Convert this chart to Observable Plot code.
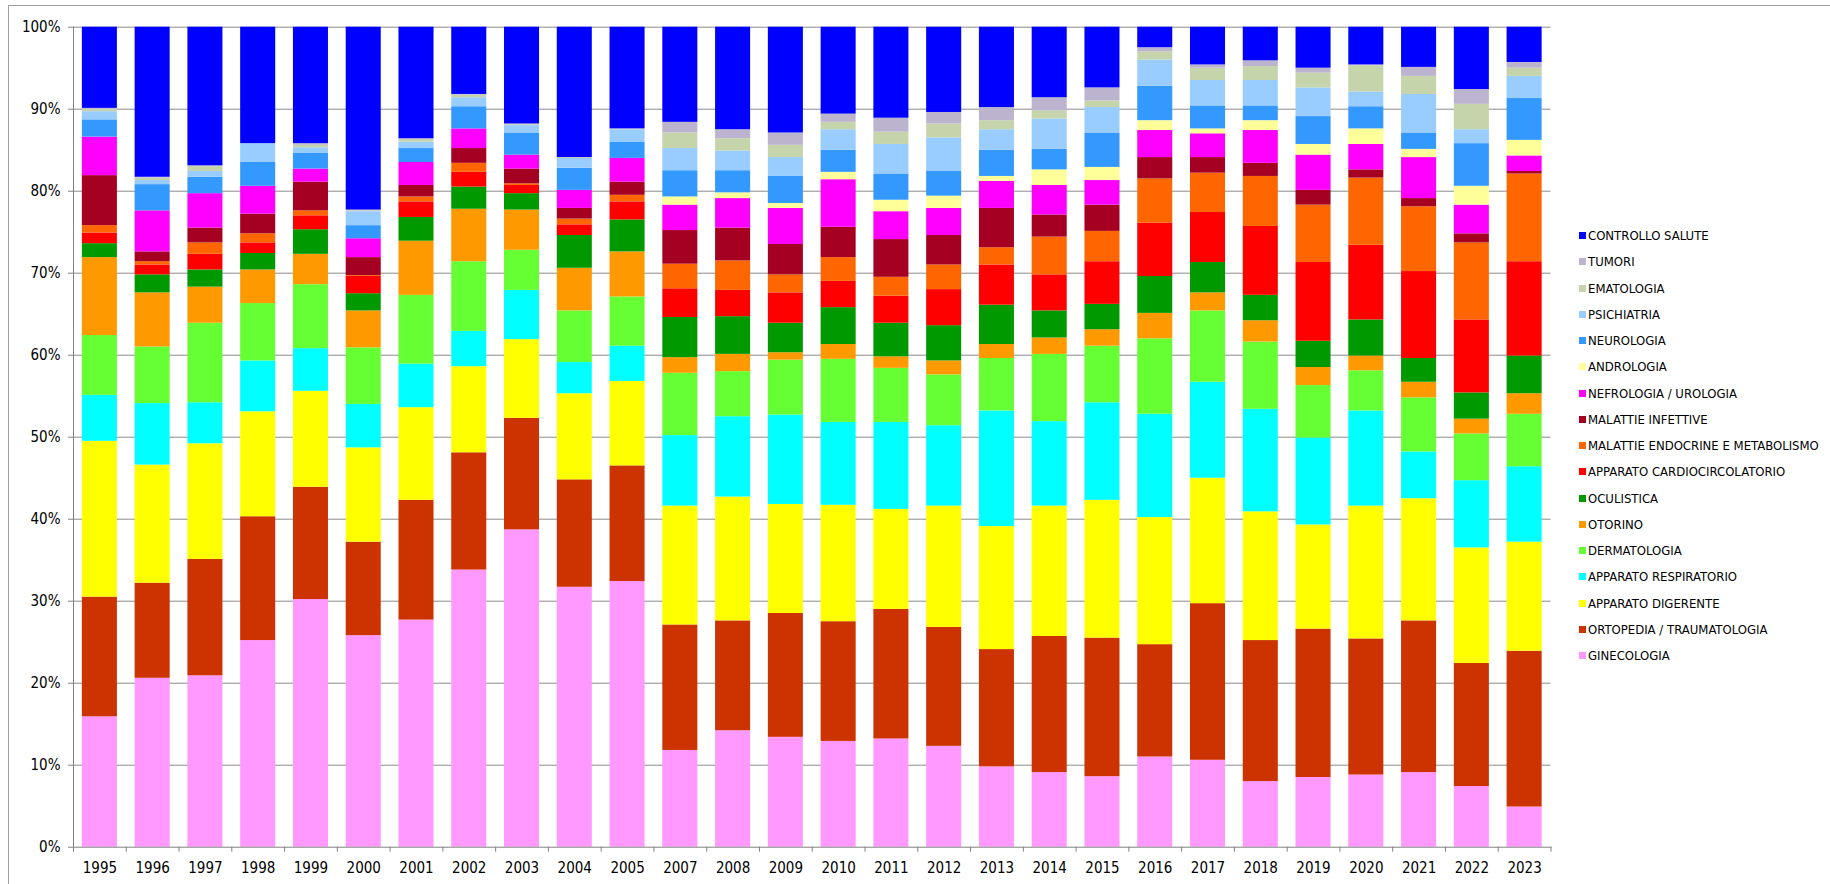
<!DOCTYPE html>
<html>
<head>
<meta charset="utf-8">
<script src="https://cdn.jsdelivr.net/npm/d3@7"></script>
<script src="https://cdn.jsdelivr.net/npm/@observablehq/plot@0.6"></script>
<style>
  html, body { margin: 0; padding: 0; background: #fff; overflow: hidden; }
  #wrap { position: relative; width: 1830px; height: 884px; font-family: 'DejaVu Sans Condensed', 'Noto Sans', sans-serif; }
  #border { position: absolute; left: 8px; top: 5px; right: -2px; bottom: -2px; border-left: 1px solid #a0a0a0; border-top: 1px solid #a0a0a0; }
  #chart { position: absolute; left: 0; top: 0; }
  .lg { position: absolute; left: 1579px; height: 14px; line-height: 14px; font-size: 13px; color: #000; white-space: nowrap; }
  .lg span.sw { display: inline-block; width: 7px; height: 7px; margin-right: 2px; vertical-align: 1px; }
</style>
</head>
<body>
<div id="wrap">
  <div id="border"></div>
  <div id="chart"></div>
</div>
<script>
// Years on the x axis (2006 is absent in the source)
const years = ["1995","1996","1997","1998","1999","2000","2001","2002","2003","2004","2005","2007","2008","2009","2010","2011","2012","2013","2014","2015","2016","2017","2018","2019","2020","2021","2022","2023"];

// Series shares (%), stacked bottom to top
const ginecologia     = [15.9,20.6,20.9,25.2,30.2,25.8,27.7,33.8,38.7,31.7,32.4,11.8,14.2,13.4,12.9,13.2,12.3,9.8,9.1,8.6,11.0,10.6,8.0,8.5,8.8,9.1,7.4,4.9];
const ortopedia       = [14.6,11.6,14.2,15.1,13.7,11.4,14.6,14.3,13.6,13.1,14.1,15.3,13.4,15.1,14.6,15.8,14.5,14.3,16.6,16.9,13.7,19.1,17.2,18.1,16.6,18.5,15.0,19.0];
const digerente       = [19.0,14.4,14.1,12.8,11.7,11.5,11.3,10.5,9.6,10.5,10.3,14.5,15.1,13.3,14.2,12.2,14.8,15.0,15.9,16.8,15.5,15.3,15.7,12.7,16.2,14.9,14.1,13.3];
const respiratorio    = [5.6,7.5,5.0,6.2,5.2,5.3,5.3,4.3,6.0,3.8,4.3,8.6,9.8,10.9,10.1,10.6,9.8,14.1,10.3,11.9,12.6,11.7,12.5,10.6,11.6,5.7,8.2,9.2];
const dermatologia    = [7.3,6.9,9.7,7.0,7.8,6.9,8.4,8.5,4.9,6.3,6.0,7.6,5.5,6.7,7.7,6.6,6.2,6.4,8.2,6.9,9.2,8.7,8.2,6.4,4.9,6.6,5.7,6.4];
const otorino         = [9.5,6.6,4.4,4.1,3.7,4.5,6.6,6.4,4.9,5.2,5.5,1.9,2.1,0.9,1.8,1.4,1.7,1.7,2.0,2.0,3.1,2.2,2.6,2.2,1.8,1.9,1.8,2.5];
const oculistica      = [1.7,2.2,2.1,2.0,3.0,2.1,2.9,2.7,2.0,4.0,3.9,4.9,4.6,3.6,4.5,4.1,4.3,4.8,3.3,3.1,4.5,3.7,3.1,3.2,4.4,2.9,3.2,4.6];
const cardio          = [1.3,1.2,1.9,1.3,1.7,2.1,1.9,1.8,1.0,1.3,2.2,3.5,3.2,3.7,3.2,3.3,4.4,4.9,4.4,5.2,6.5,6.1,8.4,9.6,9.1,10.6,8.9,11.5];
const endocrine       = [0.9,0.4,1.4,1.1,0.6,0.1,0.6,1.1,0.2,0.7,0.8,3.0,3.6,2.2,2.9,2.3,3.0,2.1,4.6,3.7,5.4,4.8,6.1,7.0,8.2,7.9,9.4,10.7];
const infettive       = [6.1,1.2,1.8,2.4,3.5,2.2,1.4,1.8,1.8,1.3,1.6,4.1,4.0,3.7,3.7,4.6,3.6,4.8,2.7,3.2,2.6,1.9,1.6,1.8,1.0,1.0,1.1,0.3];
const nefrologia      = [4.7,5.0,4.2,3.4,1.6,2.3,2.8,2.4,1.7,2.2,2.9,3.1,3.6,4.4,5.8,3.4,3.3,3.3,3.6,3.0,3.3,2.9,4.0,4.3,3.1,5.0,3.5,1.9];
const andrologia      = [0,0,0,0,0,0,0,0,0,0,0,1.0,0.7,0.6,0.9,1.4,1.5,0.6,1.9,1.6,1.2,0.6,1.2,1.3,1.9,1.0,2.3,1.9];
const neurologia      = [2.1,3.2,2.0,2.9,1.9,1.6,1.7,2.7,2.7,2.7,2.0,3.2,2.7,3.3,2.7,3.2,3.0,3.2,2.5,4.2,4.2,2.8,1.8,3.4,2.7,2.0,5.2,5.1];
const psichiatria     = [1.0,0.5,0.7,2.3,0.7,1.7,0.8,1.1,0.9,1.2,1.5,2.7,2.4,2.3,2.5,3.6,4.1,2.5,3.7,3.1,3.2,3.1,3.1,3.5,1.8,4.7,1.7,2.7];
const ematologia      = [0.3,0.3,0.6,0,0.3,0.1,0.3,0.3,0.1,0.1,0.1,1.9,1.5,1.5,0.9,1.5,1.7,1.1,1.0,0.8,1.0,1.5,1.7,1.8,3.2,2.2,3.1,1.0];
const tumori          = [0.1,0.1,0.1,0,0.2,0.1,0.1,0.1,0.1,0,0,1.3,1.1,1.5,1.0,1.7,1.4,1.6,1.6,1.6,0.5,0.4,0.7,0.6,0.1,1.1,1.8,0.7];
const controllo       = [9.9,18.3,16.9,14.2,14.2,22.3,13.6,8.2,11.8,15.9,12.4,11.6,12.5,12.9,10.6,11.1,10.4,9.8,8.6,7.4,2.5,4.6,4.1,5.0,4.6,4.9,7.6,4.3];

// Category names, bottom to top
const categories = ["GINECOLOGIA","ORTOPEDIA / TRAUMATOLOGIA","APPARATO DIGERENTE","APPARATO RESPIRATORIO","DERMATOLOGIA","OTORINO","OCULISTICA","APPARATO CARDIOCIRCOLATORIO","MALATTIE ENDOCRINE E METABOLISMO","MALATTIE INFETTIVE","NEFROLOGIA / UROLOGIA","ANDROLOGIA","NEUROLOGIA","PSICHIATRIA","EMATOLOGIA","TUMORI","CONTROLLO SALUTE"];
const colors = ["#FF99FF","#CC3300","#FFFF00","#00FFFF","#66FF33","#FF9900","#009900","#FF0000","#FF6600","#A50021","#FF00FF","#FFFF99","#3399FF","#99CCFF","#C6D4AC","#BCB3CF","#0000FF"];
const tickValues = [0,0.1,0.2,0.3,0.4,0.5,0.6,0.7,0.8,0.9,1];

const seriesList = [ginecologia, ortopedia, digerente, respiratorio, dermatologia, otorino, oculistica, cardio, endocrine, infettive, nefrologia, andrologia, neurologia, psichiatria, ematologia, tumori, controllo];
const rows = [];
years.forEach((yr, i) => {
  categories.forEach((c, j) => rows.push({year: yr, cat: c, value: seriesList[j][i]}));
});

const W = 1830, H = 884;
const mLeft = 73, mRight = W - 1550.5, mTop = 26.7, mBottom = H - 846.7;
const step = (W - mLeft - mRight) / years.length;
const tickLen = 5 / (H - mTop - mBottom);
const font = "'DejaVu Sans Condensed', 'Noto Sans', sans-serif";

const chart = Plot.plot({
  width: W, height: H,
  marginLeft: mLeft, marginRight: mRight, marginTop: mTop, marginBottom: mBottom,
  style: {fontFamily: font, fontSize: "15px", color: "#000", background: "transparent"},
  x: {type: "band", domain: years, paddingInner: 0.336, paddingOuter: 0.168, round: false, label: null, axis: null},
  y: {domain: [0, 1], label: null, axis: null},
  color: {domain: categories, range: colors},
  marks: [
    Plot.ruleY(tickValues.slice(1), {stroke: "#8c8c8c", strokeWidth: 1}),
    Plot.barY(rows, Plot.stackY({offset: "normalize", order: categories}, {x: "year", y: "value", fill: "cat"})),
    Plot.frame({anchor: "left", stroke: "#808080"}),
    Plot.frame({anchor: "bottom", stroke: "#808080"}),
    Plot.ruleX(years, {x: d => d, dx: -step / 2, y1: 0, y2: -tickLen, stroke: "#808080"}),
    Plot.ruleX(years.slice(-1), {x: d => d, dx: step / 2, y1: 0, y2: -tickLen, stroke: "#808080"}),
    Plot.axisY({ticks: tickValues, tickFormat: d3.format(".0%"), tickSize: 5, tickPadding: 8, stroke: "#808080", fill: "#000", fontSize: 15}),
    Plot.axisX({tickSize: 0, tickPadding: 15, fill: "#000", fontSize: 15})
  ]
});
document.getElementById("chart").appendChild(chart);

// Legend (top to bottom)
const wrap = document.getElementById("wrap");
categories.slice().reverse().forEach((c, i) => {
  const idx = categories.indexOf(c);
  const d = document.createElement("div");
  d.className = "lg";
  d.style.top = (236 - 7 + i * 26.25) + "px";
  const sw = document.createElement("span");
  sw.className = "sw";
  sw.style.background = colors[idx];
  d.appendChild(sw);
  d.appendChild(document.createTextNode(c));
  wrap.appendChild(d);
});
</script>
</body>
</html>
